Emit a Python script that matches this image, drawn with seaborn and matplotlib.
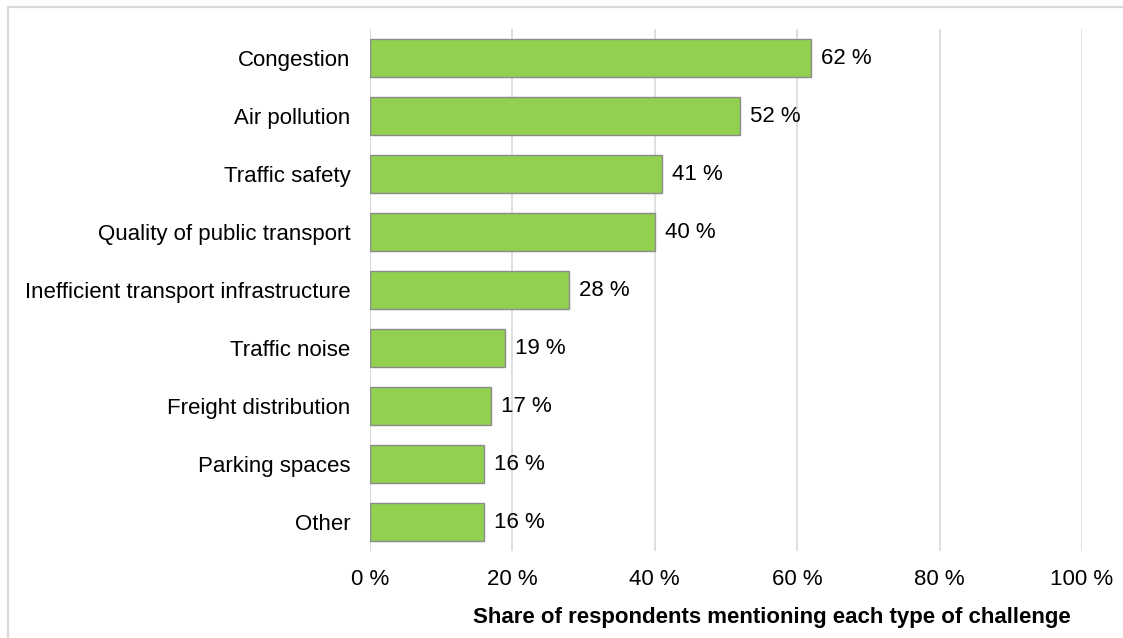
import matplotlib
matplotlib.use("Agg")
import matplotlib.pyplot as plt
from matplotlib.patches import Rectangle
import seaborn as sns
import pandas as pd

categories = [
    "Congestion",
    "Air pollution",
    "Traffic safety",
    "Quality of public transport",
    "Inefficient transport infrastructure",
    "Traffic noise",
    "Freight distribution",
    "Parking spaces",
    "Other",
]
shares = [62, 52, 41, 40, 28, 19, 17, 16, 16]
x_ticks = [0, 20, 40, 60, 80, 100]
x_title = "Share of respondents mentioning each type of challenge"

df = pd.DataFrame({"category": categories, "share": shares})

sns.set_theme(style="white")
plt.rcParams["font.family"] = ["Liberation Sans", "DejaVu Sans"]

W, H = 1123, 638
fig = plt.figure(figsize=(W / 100, H / 100), dpi=100)
ax = fig.add_axes([370 / W, 1 - 551 / H, (1082 - 370) / W, (551 - 29) / H])

sns.barplot(
    data=df, x="share", y="category", orient="h", ax=ax,
    color="#92D050", saturation=1, width=0.655,
    edgecolor="#8c8c8c", linewidth=1.0, zorder=3,
)

ax.set_xlim(0, 100)
ax.set_ylim(len(categories) - 0.5, -0.5)
ax.set_xticks(x_ticks)
ax.set_xticklabels([f"{t} %" for t in x_ticks])
ax.xaxis.grid(True, color="#d9d9d9", linewidth=1.2, zorder=0)
ax.yaxis.grid(False)
for s in ax.spines.values():
    s.set_visible(False)
ax.axvline(0, color="#d9d9d9", linewidth=1.2, zorder=1)

ax.tick_params(axis="x", length=0, pad=13, labelsize=16, labelcolor="black")
ax.tick_params(axis="y", length=0, pad=14, labelsize=16, labelcolor="black")
ax.set_ylabel("")
ax.set_xlabel("")

for i, v in enumerate(shares):
    ax.annotate(f"{v} %", xy=(v, i), xytext=(7, 0), textcoords="offset points",
                va="center", ha="left", fontsize=16, color="black")

fig.text(1071 / W, 1 - 618 / H, x_title, ha="right", va="center",
         fontsize=16, fontweight="bold", color="black")

# light outer frame (only top and left edges fall inside the canvas)
fig.patches.append(Rectangle((8 / W, -0.1), 2, 1 - 7 / H + 0.1,
                             transform=fig.transFigure, fill=False,
                             edgecolor="#d9d9d9", linewidth=1.6))

fig.savefig("out.png", dpi=100)
